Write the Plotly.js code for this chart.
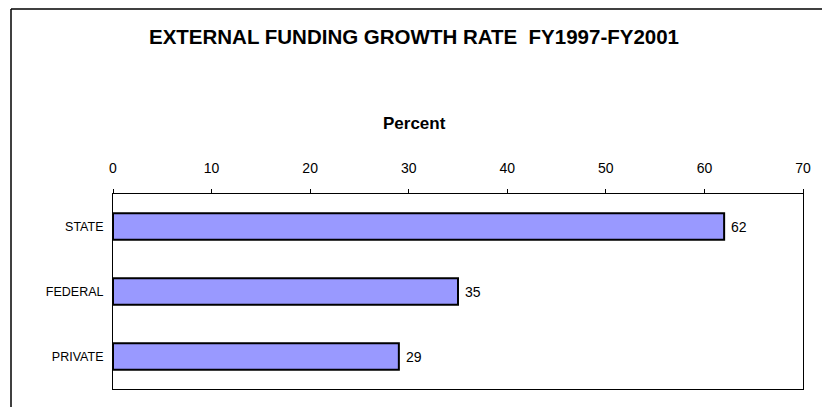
<!DOCTYPE html>
<html>
<head>
<meta charset="utf-8">
<script src="https://cdn.plot.ly/plotly-3.0.1.min.js"></script>
<style>
html, body { margin: 0; padding: 0; background: #fff; }
#chart { width: 822px; height: 407px; }
</style>
</head>
<body>
<div id="chart"></div>
<script>
const categories = ["STATE", "FEDERAL", "PRIVATE"];
const values = [62, 35, 29];
const tickValues = [0, 10, 20, 30, 40, 50, 60, 70];

const L = 113, R = 19, T = 194, B = 18, W = 822, H = 407;
const pw = W - L - R, ph = H - T - B;
const px = x => (x - L) / pw;
const py = y => (H - B - y) / ph;
const FONT = "Liberation Sans, Arial, sans-serif";

const trace = {
  type: "bar",
  orientation: "h",
  x: values,
  y: categories,
  marker: { color: "#9999FF", line: { color: "#000", width: 2 } },
  hoverinfo: "none"
};

const valueLabels = values.map((v, i) => ({
  x: v, y: categories[i], xref: "x", yref: "y",
  text: String(v), showarrow: false,
  xanchor: "left", yanchor: "middle", xshift: 5,
  font: { family: FONT, size: 14, color: "#000" }
}));

const layout = {
  width: W, height: H,
  margin: { l: L, r: R, t: T, b: B, pad: 0 },
  paper_bgcolor: "#fff",
  plot_bgcolor: "#fff",
  font: { family: FONT, size: 13, color: "#000" },
  showlegend: false,
  bargap: 0.59,
  title: {
    text: "<b>EXTERNAL FUNDING GROWTH RATE  FY1997-FY2001</b>",
    font: { size: 20.5, color: "#000" },
    x: 414 / W, xanchor: "center", xref: "container",
    y: 1 - 37 / H, yanchor: "middle", yref: "container"
  },
  xaxis: {
    side: "top",
    range: [0, 70],
    tickvals: tickValues,
    ticktext: tickValues.map(String),
    ticks: "outside",
    ticklen: 4,
    tickcolor: "#000",
    ticklabelstandoff: 10,
    tickfont: { size: 14 },
    showgrid: false,
    zeroline: false,
    showline: true,
    mirror: true,
    linecolor: "#000",
    linewidth: 1,
    fixedrange: true
  },
  yaxis: {
    type: "category",
    autorange: "reversed",
    ticks: "",
    ticklabelstandoff: 6,
    tickfont: { size: 12.5 },
    showgrid: false,
    zeroline: false,
    showline: true,
    mirror: true,
    linecolor: "#000",
    linewidth: 1,
    fixedrange: true
  },
  annotations: [{
    text: "<b>Percent</b>",
    xref: "paper", yref: "paper",
    x: px(414), y: py(124),
    xanchor: "center", yanchor: "middle",
    showarrow: false,
    font: { size: 17, color: "#000" }
  }].concat(valueLabels),
  shapes: [
    { type: "line", xref: "paper", yref: "paper", x0: px(11), x1: px(11), y0: py(9), y1: py(410), line: { color: "#000", width: 1.5 } },
    { type: "line", xref: "paper", yref: "paper", x0: px(11), x1: px(825), y0: py(9), y1: py(9), line: { color: "#000", width: 1.5 } }
  ]
};

Plotly.newPlot("chart", [trace], layout, { displayModeBar: false, staticPlot: true });
</script>
</body>
</html>
